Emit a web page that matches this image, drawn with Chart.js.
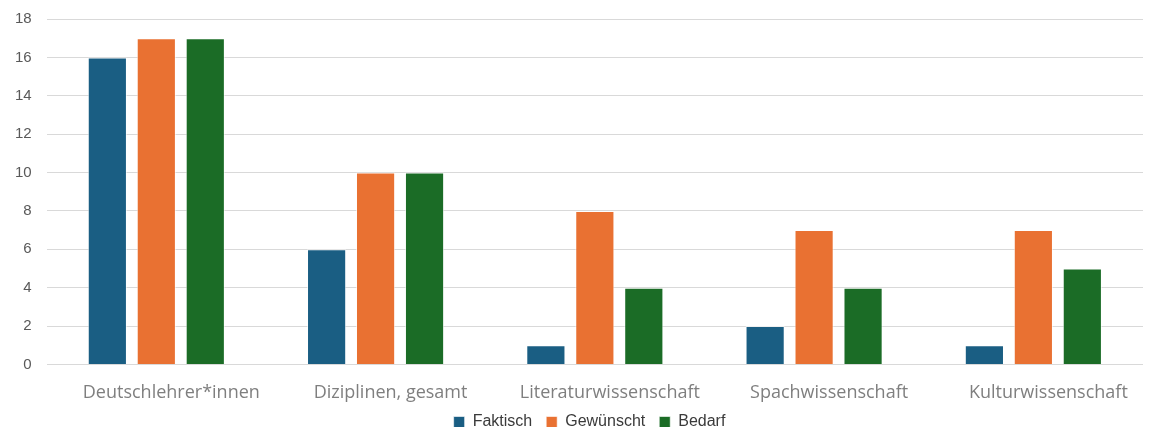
<!DOCTYPE html>
<html>
<head>
<meta charset="utf-8">
<script src="https://cdn.jsdelivr.net/npm/chart.js@4"></script>
<style>
  html, body { margin: 0; padding: 0; background: #ffffff; overflow: hidden; }
  body { width: 1153px; height: 427px; position: relative; }
  #wrap { position: absolute; left: 0; top: -5px; width: 1153px; height: 459px; }
</style>
</head>
<body>
<div id="wrap"><canvas id="chart"></canvas></div>
<script>
// Categories and series
const categories = ["Deutschlehrer*innen", "Diziplinen, gesamt", "Literaturwissenschaft", "Spachwissenschaft", "Kulturwissenschaft"];
const faktisch = [16, 6, 1, 2, 1];
const gewuenscht = [17, 10, 8, 7, 7];
const bedarf = [17, 10, 4, 4, 5];
const seriesNames = ["Faktisch", "Gewünscht", "Bedarf"];
const seriesColors = ["#1a5e83", "#e97132", "#1b6c26"];

const makeSet = (label, data, color) => ({
  label, data,
  backgroundColor: color,
  borderColor: "rgba(255,255,255,0.6)",
  borderWidth: 1,
  categoryPercentage: 0.67,
  barPercentage: 0.8
});

// Pull the legend row closer to the axis labels and nudge it to the right
const legendNudge = {
  id: "legendNudge",
  afterLayout(chart) {
    const lg = chart.legend;
    if (!lg) return;
    lg.top -= 14; lg.bottom -= 14;
    lg.left += 18; lg.right += 18;
  }
};

new Chart(document.getElementById("chart"), {
  type: "bar",
  data: {
    labels: categories,
    datasets: [
      makeSet(seriesNames[0], faktisch, seriesColors[0]),
      makeSet(seriesNames[1], gewuenscht, seriesColors[1]),
      makeSet(seriesNames[2], bedarf, seriesColors[2])
    ]
  },
  plugins: [legendNudge],
  options: {
    responsive: true,
    maintainAspectRatio: false,
    animation: false,
    layout: { padding: { left: 0, right: 10, top: 4, bottom: 0 } },
    plugins: {
      tooltip: { enabled: false },
      legend: {
        position: "bottom",
        labels: {
          boxWidth: 11,
          boxHeight: 11,
          padding: 14,
          color: "#3a3a3a",
          font: { family: "'Liberation Sans', Arial, sans-serif", size: 16 }
        }
      }
    },
    scales: {
      x: {
        grid: { display: false },
        border: { display: false },
        ticks: {
          color: "#7f7f7f",
          padding: 10,
          labelOffset: 15,
          font: { family: "'Open Sans', sans-serif", size: 18 }
        }
      },
      y: {
        min: 0,
        max: 18,
        ticks: {
          stepSize: 2,
          color: "#595959",
          padding: 15,
          font: { family: "'Liberation Sans', Arial, sans-serif", size: 15 }
        },
        grid: { color: "#d9d9d9", drawTicks: false },
        border: { display: false }
      }
    }
  }
});
</script>
</body>
</html>
